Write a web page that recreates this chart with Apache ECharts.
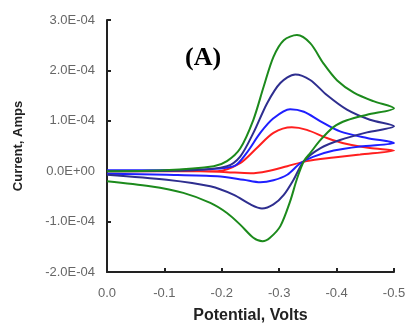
<!DOCTYPE html>
<html lang="en">
<head>
    <meta charset="UTF-8">
    <title>Cyclic voltammograms</title>
    <style>
        * { margin: 0; padding: 0; }
        body { background: #fff; }
        #main { width: 409px; height: 324px; }
    </style>
</head>
<body>
    <div id="main"></div>
</body>
<script src="https://cdn.jsdelivr.net/npm/echarts@6/dist/echarts.min.js"></script>
<script>
    // potential in volts, current in units of 1e-4 A
    // forward sweep 0 -> -0.5 V, then reverse -0.5 -> 0 V
    let greenE = [0, -0.10, -0.186, -0.209, -0.232, -0.255, -0.273, -0.290, -0.308, -0.331, -0.354, -0.377, -0.401, -0.430, -0.464, -0.5,
        -0.453, -0.418, -0.395, -0.372, -0.354, -0.343, -0.331, -0.319, -0.302, -0.284, -0.271, -0.255, -0.232, -0.209, -0.180, -0.133, -0.075, 0];
    let greenI = [0, 0.02, 0.10, 0.20, 0.45, 1.02, 1.68, 2.27, 2.60, 2.70, 2.54, 2.14, 1.80, 1.56, 1.39, 1.25,
        1.12, 1.01, 0.88, 0.62, 0.36, 0.20, -0.15, -0.60, -1.09, -1.32, -1.39, -1.32, -1.06, -0.83, -0.63, -0.43, -0.30, -0.20];

    let navyE = [0, -0.15, -0.209, -0.232, -0.255, -0.279, -0.302, -0.328, -0.354, -0.383, -0.418, -0.458, -0.5,
        -0.453, -0.406, -0.372, -0.343, -0.325, -0.308, -0.290, -0.270, -0.250, -0.221, -0.180, -0.104, 0];
    let navyI = [0, 0.02, 0.10, 0.29, 0.76, 1.35, 1.75, 1.92, 1.81, 1.51, 1.22, 1.02, 0.89,
        0.77, 0.62, 0.46, 0.20, -0.17, -0.47, -0.66, -0.74, -0.66, -0.47, -0.30, -0.17, -0.07];

    let blueE = [0, -0.15, -0.221, -0.243, -0.267, -0.290, -0.319, -0.343, -0.372, -0.406, -0.453, -0.5,
        -0.441, -0.395, -0.360, -0.337, -0.314, -0.290, -0.267, -0.238, -0.192, -0.104, 0];
    let blueI = [0.02, 0.03, 0.10, 0.36, 0.76, 1.05, 1.23, 1.18, 0.99, 0.79, 0.66, 0.56,
        0.49, 0.41, 0.29, 0.16, -0.07, -0.18, -0.22, -0.17, -0.10, -0.07, -0.05];

    let redE = [0, -0.192, -0.232, -0.261, -0.290, -0.322, -0.348, -0.383, -0.418, -0.458, -0.5,
        -0.441, -0.395, -0.348, -0.314, -0.279, -0.250, -0.209, -0.163, 0];
    let redI = [0, 0.0, 0.16, 0.46, 0.76, 0.87, 0.82, 0.66, 0.54, 0.46, 0.41,
        0.33, 0.27, 0.20, 0.10, 0.0, -0.04, -0.02, 0.0, 0];

    let curves = [
        { name: 'red', e: redE, i: redI, color: '#ff1f1f' },
        { name: 'blue', e: blueE, i: blueI, color: '#1f1fff' },
        { name: 'navy', e: navyE, i: navyI, color: '#2e2e8f' },
        { name: 'green', e: greenE, i: greenI, color: '#1c8a1c' }
    ];

    function sciLabel(v) {
        let a = v * 1e-4;
        if (Math.abs(a) < 1e-12) a = 0;
        let parts = a.toExponential(1).split('e');
        let exp = parts[1];
        return parts[0] + 'E' + exp[0] + exp.slice(1).padStart(2, '0');
    }

    let series = curves.map(c => {
        return {
            name: c.name,
            type: 'line',
            data: c.e.map((e, k) => [e, c.i[k]]),
            smooth: 0.3,
            symbol: 'none',
            lineStyle: { color: c.color, width: 2 },
            itemStyle: { color: c.color }
        }
    });

    let option = {
        animation: false,
        title: {
            text: '(A)',
            left: 180,
            top: 40,
            textStyle: { fontFamily: 'Liberation Serif', fontWeight: 'bold', fontSize: 26, color: '#000' }
        },
        grid: { left: 107, right: 15, top: 20, bottom: 52, outerBoundsMode: 'none' },
        xAxis: {
            type: 'value',
            inverse: true,
            min: -0.5,
            max: 0,
            interval: 0.1,
            name: 'Potential, Volts',
            nameLocation: 'middle',
            nameGap: 36,
            nameTextStyle: { fontFamily: 'Liberation Sans', fontWeight: 'bold', fontSize: 16, color: '#222' },
            axisLine: { onZero: false, lineStyle: { color: '#222', width: 2 } },
            axisTick: { inside: true, length: 4, lineStyle: { color: '#222', width: 2 } },
            axisLabel: {
                margin: 15,
                fontFamily: 'Liberation Sans',
                fontSize: 13,
                color: '#666',
                formatter: v => v.toFixed(1)
            },
            splitLine: { show: false }
        },
        yAxis: {
            type: 'value',
            min: -2,
            max: 3,
            interval: 1,
            name: 'Current, Amps',
            nameLocation: 'middle',
            nameGap: 82,
            nameTextStyle: { fontFamily: 'Liberation Sans', fontWeight: 'bold', fontSize: 13, color: '#222' },
            axisLine: { show: true, onZero: false, lineStyle: { color: '#222', width: 2 } },
            axisTick: { show: true, inside: true, length: 4, lineStyle: { color: '#222', width: 2 } },
            axisLabel: {
                margin: 12,
                fontFamily: 'Liberation Sans',
                fontSize: 13,
                color: '#666',
                formatter: sciLabel
            },
            splitLine: { show: false }
        },
        series: series
    };

    let myChart = echarts.init(document.getElementById('main'));
    myChart.setOption(option);
</script>
</html>
